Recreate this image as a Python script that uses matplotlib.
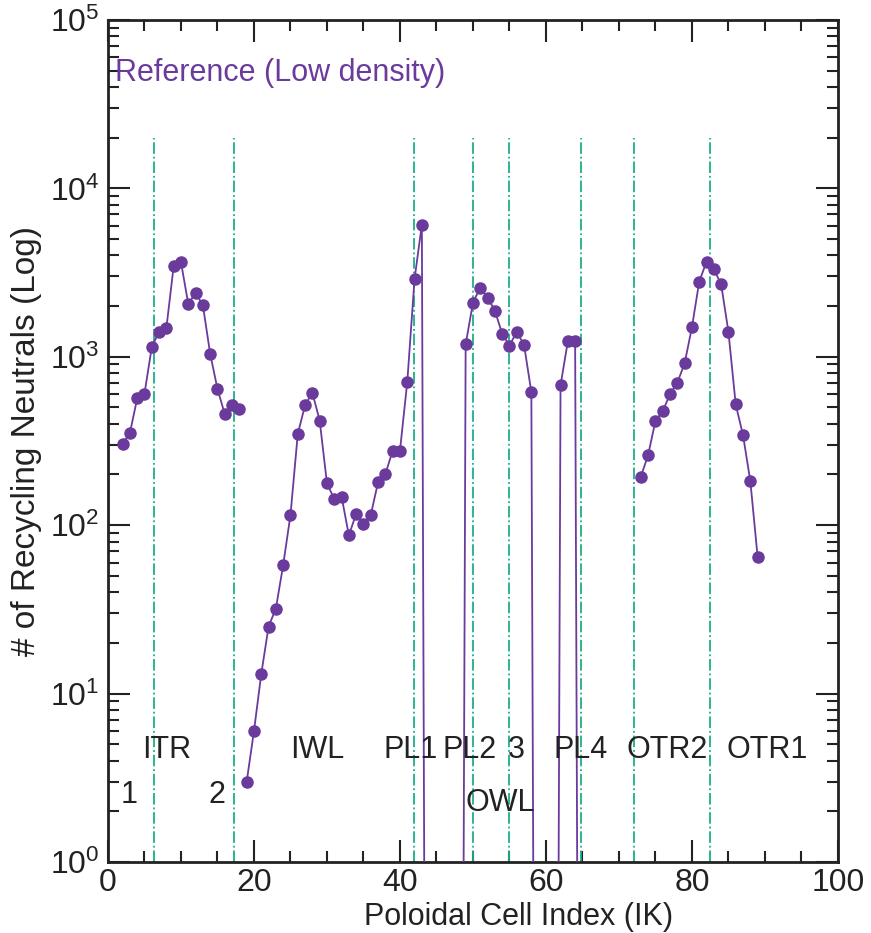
import numpy as np
import matplotlib
matplotlib.use("Agg")
import matplotlib.pyplot as plt
from matplotlib.ticker import LogLocator, MultipleLocator

plt.rcParams['font.family'] = ['Liberation Sans', 'DejaVu Sans']

# inner target (ITR), IK 2..18
itr_x = list(range(2, 19))
itr_y = [303, 353, 566, 605, 1143, 1410, 1486, 3460, 3640, 2055, 2400, 2020,
         1040, 644, 456, 519, 490]

# inner wall .. PL4, IK 19..65 (zeros = no recycling)
mid_x = list(range(19, 66))
mid_y = [3.0, 6.0, 13.1, 25, 32, 58, 115, 348, 517, 612, 418, 177, 143, 148,
         87, 117, 102, 115, 180, 201, 277, 277, 708, 2900, 6090,
         0, 0, 0, 0, 0,
         1185, 2093, 2577, 2247, 1881, 1373, 1164, 1407, 1178, 617,
         0, 0, 0,
         678, 1233, 1233, 0]

# outer target (OTR), IK 73..89
otr_x = list(range(73, 90))
otr_y = [194, 261, 416, 476, 599, 702, 914, 1496, 2792, 3670, 3310, 2698,
         1410, 521, 343, 183, 65]

dividers = [6.3, 17.3, 41.9, 50.0, 55.0, 64.8, 72.0, 82.5]

region_names = ['ITR', 'IWL', 'PL1', 'PL2', '3', 'PL4', 'OTR2', 'OTR1']
region_x = [8.1, 28.6, 41.5, 49.6, 56.0, 64.7, 76.6, 90.3]
sub_names = ['1', '2', 'OWL']
sub_x = [2.9, 14.9, 53.7]
sub_y = [2.5, 2.5, 2.25]

purple = '#6A3A9C'
green = '#1AAE8A'
ink = '#222222'

fig = plt.figure(figsize=(8.71, 9.33), dpi=100)
ax = fig.add_axes([0.124, 0.0761, 0.838, 0.9025])

floor = 1e-8
for xs, ys in [(itr_x, itr_y), (mid_x, mid_y), (otr_x, otr_y)]:
    ys = np.array(ys, dtype=float)
    ax.plot(xs, np.where(ys > 0, ys, floor), color=purple, lw=1.3, zorder=3)
    m = ys > 0
    ax.plot(np.array(xs)[m], ys[m], 'o', color=purple, ms=8, zorder=4)

ax.vlines(dividers, 1, 2e4, colors=green, linestyles='-.', lw=1.3, zorder=2)

ax.set_yscale('log')
ax.set_xlim(0, 100)
ax.set_ylim(1, 1e5)

for name, x in zip(region_names, region_x):
    ax.text(x, 4.6, name, ha='center', va='center', fontsize=22, color=ink)
for name, x, y in zip(sub_names, sub_x, sub_y):
    ax.text(x, y, name, ha='center', va='center', fontsize=22, color=ink)

ax.text(0.01, 0.937, 'Reference (Low density)', transform=ax.transAxes,
        ha='left', va='center', fontsize=22, color=purple)

ax.xaxis.set_major_locator(MultipleLocator(20))
ax.xaxis.set_minor_locator(MultipleLocator(5))
ax.yaxis.set_major_locator(LogLocator(base=10, numticks=10))
ax.yaxis.set_minor_locator(LogLocator(base=10, subs=np.arange(2, 10), numticks=10))

ax.tick_params(which='both', direction='in', top=True, right=True,
               labelsize=23, width=1.5, colors=ink)
ax.tick_params(which='major', length=16)
ax.tick_params(which='minor', length=8)
ax.tick_params(axis='x', which='major', pad=4)
ax.tick_params(axis='y', which='major', pad=6)
for s in ax.spines.values():
    s.set_linewidth(2)
    s.set_color(ink)

ax.set_xlabel('Poloidal Cell Index (IK)', fontsize=22, color=ink)
ax.xaxis.set_label_coords(0.562, -0.047)
ax.set_ylabel('# of Recycling Neutrals (Log)', fontsize=24, color=ink)
ax.yaxis.set_label_coords(-0.090, 0.5)

fig.savefig('out.png', dpi=100)
